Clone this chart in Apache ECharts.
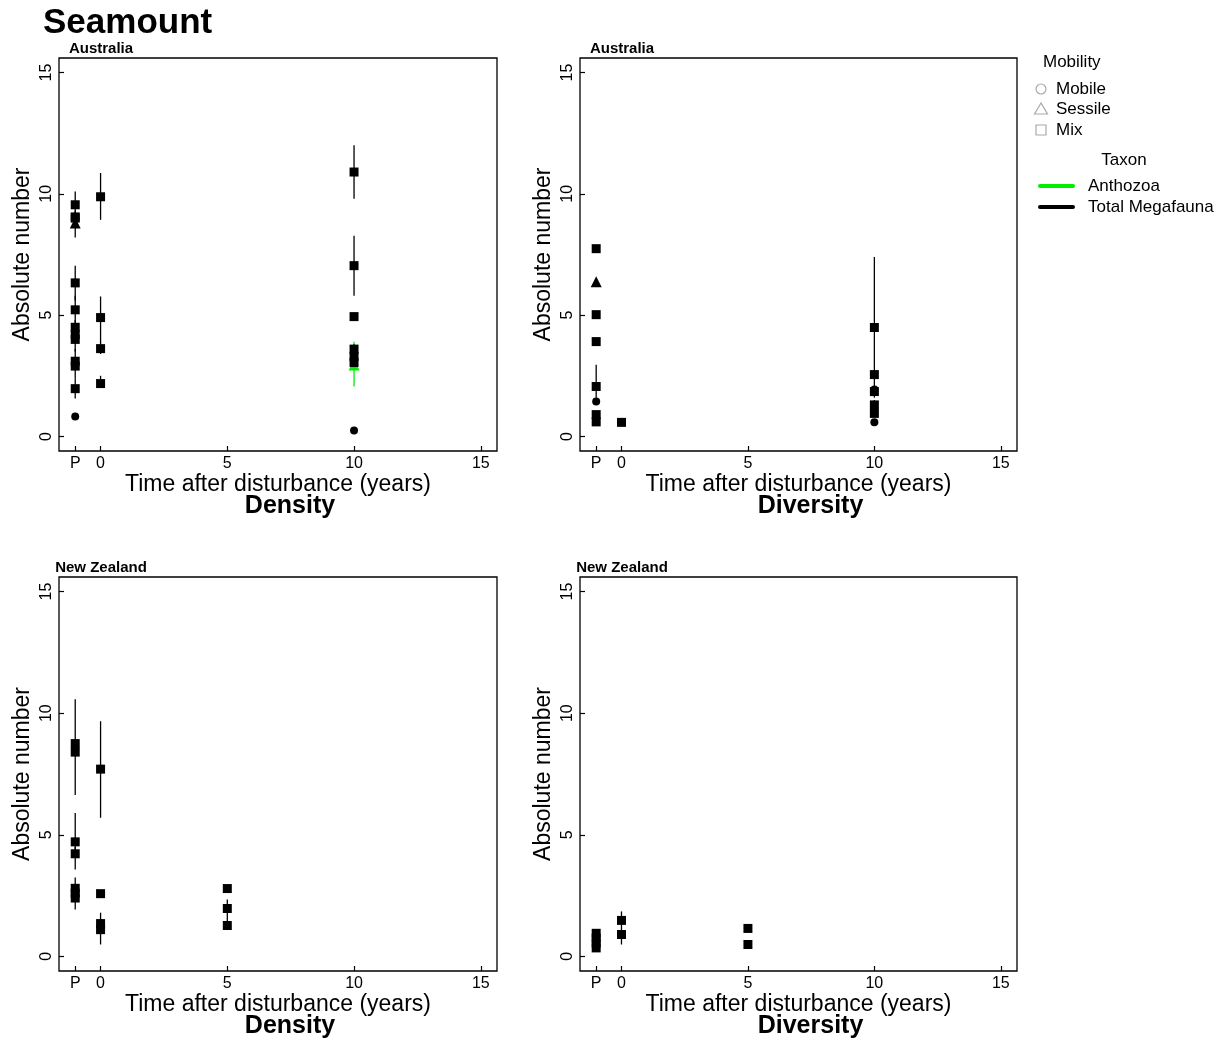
<!DOCTYPE html>
<html>
<head>
<meta charset="utf-8">
<script src="https://cdn.jsdelivr.net/npm/echarts@6/dist/echarts.min.js"></script>
<style>
html,body{margin:0;padding:0;background:#fff;}
#chart{width:1226px;height:1041px;}
</style>
</head>
<body>
<div id="chart"></div>
<script>
// ---- tick labels ----
const timeTickValues = [-1, 0, 5, 10, 15];
const timeTickLabels = ['P', '0', '5', '10', '15'];
const countTickValues = [0, 5, 10, 15];

// ---- Australia, Density ----
const auDensX     = [-1, -1, -1, -1, -1, -1, -1, -1, -1, -1, -1, -1, -1, 0, 0, 0, 0, 10, 10, 10, 10, 10, 10, 10, 10];
const auDensY     = [9.55, 9.05, 8.8, 6.33, 5.22, 4.5, 4.2, 4.0, 3.1, 2.9, 1.97, 0.82, 9.0, 9.88, 4.9, 3.62, 2.18, 10.9, 7.04, 4.94, 2.95, 3.6, 3.3, 3.05, 0.25];
const auDensShape = ['Mix','Mix','Sessile','Mix','Mix','Mix','Mix','Mix','Mix','Mix','Mix','Mobile','Mix','Mix','Mix','Mix','Mix','Mix','Mix','Mix','Sessile','Mix','Mix','Mix','Mobile'];
const auDensTaxon = ['Total','Total','Total','Total','Total','Total','Total','Total','Total','Total','Total','Total','Total','Total','Total','Total','Total','Total','Total','Total','Anthozoa','Total','Total','Total','Total'];
const auDensErrX  = [-1, -1, -1, -1, -1, -1, -1, 0, 0, 0, 0, 10, 10, 10, 10, 10];
const auDensErrLo = [9.0, 8.2, 5.6, 4.6, 3.5, 2.4, 1.56, 8.93, 3.87, 3.4, 2.0, 9.8, 5.8, 4.8, 2.06, 3.0];
const auDensErrHi = [10.1, 9.3, 7.04, 5.8, 4.8, 3.6, 2.4, 10.86, 5.77, 3.9, 2.5, 12.0, 8.27, 5.1, 3.9, 3.8];
const auDensErrTaxon = ['Total','Total','Total','Total','Total','Total','Total','Total','Total','Total','Total','Total','Total','Total','Anthozoa','Total'];

// ---- Australia, Diversity ----
const auDivX     = [-1, -1, -1, -1, -1, -1, -1, -1, 0, 10, 10, 10, 10, 10, 10, 10];
const auDivY     = [7.74, 6.38, 5.02, 3.91, 2.06, 1.44, 0.9, 0.6, 0.58, 4.49, 2.55, 1.93, 1.85, 1.3, 0.95, 0.58];
const auDivShape = ['Mix','Sessile','Mix','Mix','Mix','Mobile','Mix','Mix','Mix','Mix','Mix','Mobile','Mix','Mix','Mix','Mobile'];
const auDivTaxon = ['Total','Total','Total','Total','Total','Total','Total','Total','Total','Total','Total','Total','Total','Total','Total','Total'];
const auDivErrX  = [-1, -1, 10, 10];
const auDivErrLo = [7.6, 1.6, 1.6, 0.8];
const auDivErrHi = [7.9, 2.96, 7.4, 1.5];
const auDivErrTaxon = ['Total','Total','Total','Total'];

// ---- New Zealand, Density ----
const nzDensX     = [-1, -1, -1, -1, -1, -1, -1, 0, 0, 0, 0, 5, 5, 5];
const nzDensY     = [8.75, 8.4, 4.71, 4.22, 2.8, 2.6, 2.4, 7.7, 2.58, 1.35, 1.1, 2.79, 1.97, 1.27];
const nzDensShape = ['Mix','Mix','Mix','Mix','Mix','Mix','Mix','Mix','Mix','Mix','Mix','Mix','Mix','Mix'];
const nzDensTaxon = ['Total','Total','Total','Total','Total','Total','Total','Total','Total','Total','Total','Total','Total','Total'];
const nzDensErrX  = [-1, -1, -1, -1, 0, 0, 5];
const nzDensErrLo = [6.64, 4.4, 3.57, 1.93, 5.7, 0.49, 1.3];
const nzDensErrHi = [10.57, 5.9, 4.5, 3.24, 9.67, 1.8, 2.34];
const nzDensErrTaxon = ['Total','Total','Total','Total','Total','Total','Total'];

// ---- New Zealand, Diversity ----
const nzDivX     = [-1, -1, -1, -1, 0, 0, 5, 5];
const nzDivY     = [0.95, 0.75, 0.55, 0.35, 1.48, 0.9, 1.15, 0.49];
const nzDivShape = ['Mix','Mix','Mix','Mix','Mix','Mix','Mix','Mix'];
const nzDivTaxon = ['Total','Total','Total','Total','Total','Total','Total','Total'];
const nzDivErrX  = [0, 5];
const nzDivErrLo = [0.49, 1.1];
const nzDivErrHi = [1.85, 1.25];
const nzDivErrTaxon = ['Total','Total'];

// ---- legend ----
const mobilityNames = ['Mobile', 'Sessile', 'Mix'];
const taxonNames = ['Anthozoa', 'Total Megafauna'];

// ---------- build ----------
const taxonColor = { Total: '#000000', Anthozoa: '#00ee00' };
const shapeSymbol = { Mix: 'rect', Mobile: 'circle', Sessile: 'triangle' };
const shapeSize = { Mix: 9, Mobile: 8, Sessile: 11 };

const panels = [
  { x: auDensX, y: auDensY, s: auDensShape, t: auDensTaxon, ex: auDensErrX, lo: auDensErrLo, hi: auDensErrHi, et: auDensErrTaxon, region: 'Australia', metric: 'Density' },
  { x: auDivX, y: auDivY, s: auDivShape, t: auDivTaxon, ex: auDivErrX, lo: auDivErrLo, hi: auDivErrHi, et: auDivErrTaxon, region: 'Australia', metric: 'Diversity' },
  { x: nzDensX, y: nzDensY, s: nzDensShape, t: nzDensTaxon, ex: nzDensErrX, lo: nzDensErrLo, hi: nzDensErrHi, et: nzDensErrTaxon, region: 'New Zealand', metric: 'Density' },
  { x: nzDivX, y: nzDivY, s: nzDivShape, t: nzDivTaxon, ex: nzDivErrX, lo: nzDivErrLo, hi: nzDivErrHi, et: nzDivErrTaxon, region: 'New Zealand', metric: 'Diversity' }
];

const gridPos = [
  { left: 59, top: 58, width: 438, height: 393 },
  { left: 580, top: 58, width: 437, height: 393 },
  { left: 59, top: 577, width: 438, height: 394 },
  { left: 580, top: 577, width: 437, height: 394 }
];

const FONT = '"Liberation Sans", Arial, sans-serif';

const grids = [], xAxes = [], yAxes = [], series = [], graphics = [];

panels.forEach((p, i) => {
  const g = gridPos[i];
  grids.push({ left: g.left, top: g.top, width: g.width, height: g.height, show: true, borderColor: '#000', borderWidth: 1.3, backgroundColor: 'transparent' });
  xAxes.push({
    type: 'value', gridIndex: i, min: -1.64, max: 15.64,
    axisLine: { show: false, onZero: false },
    axisTick: { show: true, inside: true, length: 5, customValues: timeTickValues, lineStyle: { color: '#000', width: 1.2 } },
    axisLabel: { customValues: timeTickValues, margin: 5, fontSize: 16, color: '#000', fontFamily: FONT,
      formatter: v => timeTickLabels[timeTickValues.indexOf(v)] },
    splitLine: { show: false },
    name: 'Time after disturbance (years)', nameLocation: 'middle', nameGap: 19,
    nameTextStyle: { fontSize: 23, color: '#000', fontFamily: FONT }
  });
  yAxes.push({
    type: 'value', gridIndex: i, min: -0.6, max: 15.6,
    axisLine: { show: false, onZero: false },
    axisTick: { show: true, inside: true, length: 5, customValues: countTickValues, lineStyle: { color: '#000', width: 1.2 } },
    axisLabel: { customValues: countTickValues, rotate: 90, margin: 4, fontSize: 16, color: '#000', fontFamily: FONT },
    splitLine: { show: false },
    name: 'Absolute number', nameLocation: 'middle', nameGap: 25, nameRotate: 90,
    nameTextStyle: { fontSize: 23, color: '#000', fontFamily: FONT }
  });

  // error bars
  const errData = p.ex.map((x, k) => [x, p.lo[k], p.hi[k], p.et[k] === 'Anthozoa' ? 1 : 0]);
  series.push({
    type: 'custom', xAxisIndex: i, yAxisIndex: i, z: 2, silent: true,
    data: errData,
    encode: { x: 0, y: [1, 2] },
    renderItem: (params, api) => {
      const a = api.coord([api.value(0), api.value(1)]);
      const b = api.coord([api.value(0), api.value(2)]);
      const col = api.value(3) === 1 ? taxonColor.Anthozoa : taxonColor.Total;
      return { type: 'line', shape: { x1: a[0], y1: a[1], x2: b[0], y2: b[1] }, style: { stroke: col, lineWidth: 1.3 } };
    }
  });

  // points (Anthozoa first so black marks sit on top)
  const idx = p.x.map((_, k) => k).sort((a, b) => (p.t[a] === 'Anthozoa' ? 0 : 1) - (p.t[b] === 'Anthozoa' ? 0 : 1));
  series.push({
    type: 'scatter', xAxisIndex: i, yAxisIndex: i, z: 3, silent: true,
    data: idx.map(k => ({
      value: [p.x[k], p.y[k]],
      symbol: shapeSymbol[p.s[k]],
      symbolSize: shapeSize[p.s[k]],
      itemStyle: { color: taxonColor[p.t[k]], opacity: 1 }
    }))
  });

  // region label
  graphics.push({ type: 'text', x: g.left + 42, y: g.top - 9,
    style: { text: p.region, font: 'bold 15px ' + FONT, fill: '#000', textAlign: 'center', textVerticalAlign: 'middle' } });
  // metric label
  graphics.push({ type: 'text', x: g.left + g.width / 2 + 12, y: g.top + g.height + 55,
    style: { text: p.metric, font: 'bold 25px ' + FONT, fill: '#000', textAlign: 'center', textVerticalAlign: 'middle' } });
});

// title
graphics.push({ type: 'text', x: 43, y: 23, style: { text: 'Seamount', font: 'bold 35px ' + FONT, fill: '#000', textAlign: 'left', textVerticalAlign: 'middle' } });

// legend
const LX = 1041;
graphics.push({ type: 'text', x: 1043, y: 62, style: { text: 'Mobility', font: '17px ' + FONT, fill: '#000', textVerticalAlign: 'middle' } });
const legY = [89, 109, 130];
graphics.push({ type: 'circle', shape: { cx: LX, cy: legY[0], r: 5 }, style: { fill: 'none', stroke: '#aaa', lineWidth: 1.2 } });
graphics.push({ type: 'polygon', shape: { points: [[LX, legY[1] - 6], [LX - 6.5, legY[1] + 5], [LX + 6.5, legY[1] + 5]] }, style: { fill: 'none', stroke: '#aaa', lineWidth: 1.2 } });
graphics.push({ type: 'rect', shape: { x: LX - 5, y: legY[2] - 5, width: 10, height: 10 }, style: { fill: 'none', stroke: '#aaa', lineWidth: 1.2 } });
mobilityNames.forEach((n, k) => {
  graphics.push({ type: 'text', x: 1056, y: legY[k], style: { text: n, font: '17px ' + FONT, fill: '#000', textVerticalAlign: 'middle' } });
});
graphics.push({ type: 'text', x: 1124, y: 160, style: { text: 'Taxon', font: '17px ' + FONT, fill: '#000', textAlign: 'center', textVerticalAlign: 'middle' } });
const taxY = [186, 207];
const taxCols = [taxonColor.Anthozoa, taxonColor.Total];
taxonNames.forEach((n, k) => {
  graphics.push({ type: 'line', shape: { x1: 1040, y1: taxY[k], x2: 1073, y2: taxY[k] }, style: { stroke: taxCols[k], lineWidth: 4, lineCap: 'round' } });
  graphics.push({ type: 'text', x: 1088, y: taxY[k], style: { text: n, font: '17px ' + FONT, fill: '#000', textVerticalAlign: 'middle' } });
});

const chart = echarts.init(document.getElementById('chart'), null, { renderer: 'canvas' });
chart.setOption({
  animation: false,
  backgroundColor: '#fff',
  textStyle: { fontFamily: FONT },
  grid: grids, xAxis: xAxes, yAxis: yAxes, series: series, graphic: graphics
});
</script>
</body>
</html>
